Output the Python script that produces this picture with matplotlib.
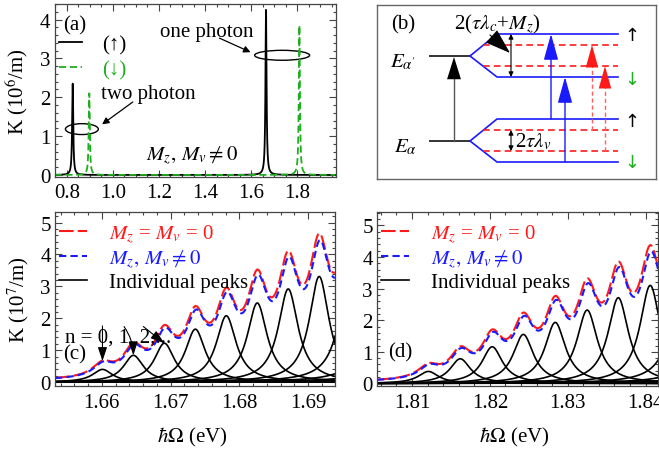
import numpy as np
import matplotlib.pyplot as plt
from matplotlib.patches import Ellipse
from matplotlib.ticker import MultipleLocator

plt.rcParams['font.family'] = ['Liberation Serif', 'DejaVu Serif']
plt.rcParams['mathtext.fontset'] = 'stix'
plt.rcParams['font.size'] = 15

RED = '#ff1a1a'
BLUE = '#1a1aff'
GREEN = '#1fae1f'
FRAME = '#444444'

# ---- panel (a): sharp peaks, K in 1e6/m
a_up_centers = [0.825, 1.665]
a_up_heights = [2.35, 4.25]
a_dn_centers = [0.897, 1.810]
a_dn_heights = [2.10, 3.85]
a_width = 0.0028

# ---- panel (c): peaks near 1.66-1.69 eV, K in 1e7/m
c_centers = [1.6601, 1.6646, 1.6691, 1.6736, 1.6781, 1.6826, 1.6871, 1.6916,
             1.6961, 1.7006, 1.7051, 1.7096, 1.7141, 1.7186]
c_heights = [0.40, 0.84, 1.22, 1.66, 2.08, 2.48, 2.92, 3.31,
             3.72, 4.12, 4.52, 4.92, 5.30, 5.70]
c_width = 0.00175

# ---- panel (d): peaks near 1.81-1.84 eV
d_centers = [1.8121, 1.8162, 1.8203, 1.8243, 1.8284, 1.8325, 1.8365, 1.8406,
             1.8447, 1.8488, 1.8529, 1.8570, 1.8611, 1.8652]
d_heights = [0.38, 0.78, 1.16, 1.55, 1.93, 2.32, 2.71, 3.10,
             3.48, 3.86, 4.24, 4.62, 5.00, 5.38]
d_width = 0.0016

# ratio of the M != 0 total to the M = 0 total
blue_ratio = 0.955


def lorentz(x, c, h, g):
    return h / (1 + ((x - c) / g) ** 2)


def style_ax(ax, xmaj, xmin, ymaj, ymin):
    ax.xaxis.set_major_locator(MultipleLocator(xmaj))
    ax.xaxis.set_minor_locator(MultipleLocator(xmin))
    ax.yaxis.set_major_locator(MultipleLocator(ymaj))
    ax.yaxis.set_minor_locator(MultipleLocator(ymin))
    ax.tick_params(which='both', direction='in', top=True, right=True,
                   color=FRAME, width=0.8)
    ax.tick_params(which='major', length=5)
    ax.tick_params(which='minor', length=2.5)
    ax.tick_params(axis='x', pad=5)
    ax.tick_params(axis='y', pad=3)
    for s in ax.spines.values():
        s.set_color(FRAME)
        s.set_linewidth(0.9)


W, H = 659, 452
fig = plt.figure(figsize=(W / 100, H / 100), dpi=100)


def px_axes(x0, y0, x1, y1):
    return fig.add_axes([x0 / W, 1 - y1 / H, (x1 - x0) / W, (y1 - y0) / H])


# ================= (a)
axa = px_axes(54.5, 5, 335.5, 177.5)
xa = np.linspace(0.74, 1.98, 40000)
ya_up = sum(lorentz(xa, c, h, a_width) for c, h in zip(a_up_centers, a_up_heights))
ya_dn = sum(lorentz(xa, c, h, a_width) for c, h in zip(a_dn_centers, a_dn_heights))
l_up, = axa.plot(xa, ya_up, color='black', lw=1.3)
l_dn, = axa.plot(xa, ya_dn, color=GREEN, lw=1.3, dashes=(4, 2))
axa.set_xlim(0.746, 1.967)
axa.set_ylim(-0.04, 4.4)
style_ax(axa, 0.2, 0.05, 1, 0.2)
axa.set_ylabel(r'K (10$^6$/m)')
axa.yaxis.set_label_coords(-0.086, 0.5)
axa.text(0.835, 3.87, '(a)', ha='center', va='center')
axa.legend([l_up, l_dn], ['(\u2191)', '(\u2193)'], loc='upper left',
           bbox_to_anchor=(0.0, 0.845), frameon=False, borderpad=0,
           borderaxespad=0.2, handlelength=1.1, handletextpad=1.0,
           labelspacing=0.25, labelcolor=['black', GREEN])
axa.text(1.409, 3.69, 'one photon', ha='center', va='center')
axa.add_patch(Ellipse((1.735, 3.08), 0.239, 0.256, fill=False, lw=1.0))
axa.annotate('', xy=(1.609, 3.13), xytext=(1.452, 3.55),
             arrowprops=dict(arrowstyle='-|>', color='black', lw=0.9,
                             mutation_scale=10))
axa.text(1.152, 2.10, 'two photon', ha='center', va='center')
axa.add_patch(Ellipse((0.865, 1.18), 0.143, 0.28, fill=False, lw=1.0))
axa.annotate('', xy=(0.943, 1.26), xytext=(1.096, 1.92),
             arrowprops=dict(arrowstyle='-|>', color='black', lw=0.9,
                             mutation_scale=10))
axa.text(1.343, 0.51, r'$M_z,\, M_v \neq 0$', ha='center', va='center')

# ================= (b) level scheme (pixel-like coordinates)
axb = px_axes(377, 6, 656, 180)
axb.set_xlim(377, 656)
axb.set_ylim(180, 6)
axb.set_xticks([])
axb.set_yticks([])
for s in axb.spines.values():
    s.set_color('#666666')
    s.set_linewidth(1.0)

lev_x0, lev_x1 = 430, 470
split_x = 497
end_x = 618
dash_x = 483
E_up, E_lo = 57, 142
upper_blue = [35, 78]
upper_red = [46, 67]
lower_blue = [120, 163]
lower_red = [131, 152]

for y0, yb, yr in [(E_up, upper_blue, upper_red), (E_lo, lower_blue, lower_red)]:
    axb.plot([lev_x0, lev_x1], [y0, y0], color='#333333', lw=1.4)
    for yy in yb:
        axb.plot([lev_x1, split_x, end_x], [y0, yy, yy], color=BLUE, lw=1.2)
    for yy in yr:
        axb.plot([dash_x, end_x], [yy, yy], color=RED, lw=1.2, dashes=(4, 2.5))

axb.plot([454, 454], [E_lo, E_up + 20], color='#555555', lw=1.0)
axb.annotate('', xy=(454, E_up + 1), xytext=(454, E_up + 22),
             arrowprops=dict(arrowstyle='-|>,head_length=0.8,head_width=0.25',
                             color='black', lw=0.0, mutation_scale=20,
                             shrinkA=0, shrinkB=0))
axb.annotate('', xy=(511, upper_blue[0]), xytext=(511, upper_blue[1]),
             arrowprops=dict(arrowstyle='<|-|>', color='black', lw=0.8,
                             mutation_scale=7, shrinkA=0, shrinkB=0))
axb.annotate('', xy=(511, lower_red[0]), xytext=(511, lower_red[1]),
             arrowprops=dict(arrowstyle='<|-|>', color='black', lw=0.8,
                             mutation_scale=7, shrinkA=0, shrinkB=0))
axb.annotate('', xy=(510, 54), xytext=(490, 36),
             arrowprops=dict(arrowstyle='-|>,head_length=0.9,head_width=0.3',
                             color='black', lw=0.8, mutation_scale=18,
                             shrinkA=0, shrinkB=0))
axb.annotate('', xy=(551, upper_blue[0]), xytext=(551, lower_blue[0]),
             arrowprops=dict(arrowstyle='-|>,head_length=0.9,head_width=0.25',
                             color=BLUE, lw=1.0, mutation_scale=18,
                             shrinkA=0, shrinkB=0))
axb.annotate('', xy=(565, upper_blue[1]), xytext=(565, lower_blue[1]),
             arrowprops=dict(arrowstyle='-|>,head_length=0.9,head_width=0.25',
                             color=BLUE, lw=1.0, mutation_scale=18,
                             shrinkA=0, shrinkB=0))
for xx, yt, yb in [(592, upper_red[0], lower_red[0]), (605, upper_red[1], lower_red[1])]:
    axb.plot([xx, xx], [yb, yt + 14], color='#ff6060', lw=1.0, dashes=(3, 2))
    axb.annotate('', xy=(xx, yt), xytext=(xx, yt + 15),
                 arrowprops=dict(arrowstyle='-|>,head_length=0.9,head_width=0.25',
                                 color=RED, lw=0.0, mutation_scale=18,
                                 shrinkA=0, shrinkB=0))

axb.text(403, 25, '(b)', ha='center', va='center')
axb.text(497, 24, r'2($\tau\lambda_c$+$M_z$)', ha='center', va='center')
axb.text(403, 62, r"$E_{\alpha'}$", ha='center', va='center')
axb.text(405, 147, r'$E_{\alpha}$', ha='center', va='center')
axb.text(515, 142, r'2$\tau\lambda_v$', ha='left', va='center')
for yy, s, col in [(36, '\u2191', 'black'), (80, '\u2193', GREEN),
                   (122, '\u2191', 'black'), (163, '\u2193', GREEN)]:
    axb.text(632, yy, s, ha='center', va='center', color=col, fontsize=13,
             family=['DejaVu Sans'])


# ================= (c) and (d)
def spectrum_panel(rect, centers, heights, width, xlim, ylim, tag, tagpos):
    ax = px_axes(*rect)
    x = np.linspace(xlim[0], xlim[1], 3000)
    peaks = [lorentz(x, c, h, width) for c, h in zip(centers, heights)]
    total = np.sum(peaks, axis=0)
    total_b = np.sum([lorentz(x, c + 0.0001, h * blue_ratio, width)
                      for c, h in zip(centers, heights)], axis=0)
    lp = None
    for p in peaks:
        lp, = ax.plot(x, p, color='black', lw=1.2)
    lr, = ax.plot(x, total, color=RED, lw=1.5, dashes=(7, 2))
    lb, = ax.plot(x, total_b, color=BLUE, lw=1.5, dashes=(3.5, 2))
    ax.set_xlim(*xlim)
    ax.set_ylim(*ylim)
    style_ax(ax, 0.01, 0.002, 1, 0.2)
    ax.set_xlabel(r'$\hbar\Omega$ (eV)')
    ax.xaxis.set_label_coords(0.49, -0.225)
    ax.legend([lr, lb, lp], [r'$M_z$ = $M_v$ = 0', r'$M_z,\, M_v \neq 0$',
                             'Individual peaks'],
              loc='upper left', bbox_to_anchor=(0.0, 0.965), frameon=False,
              borderpad=0, borderaxespad=0.2, handlelength=1.35,
              handletextpad=1.05, labelspacing=0.12,
              labelcolor=[RED, BLUE, 'black'])
    ax.text(tagpos[0], tagpos[1], tag, ha='center', va='center')
    return ax


axc = spectrum_panel((55, 213, 335, 387), c_centers, c_heights, c_width,
                     (1.6532, 1.6939), (-0.12, 5.33), '(c)', (1.6561, 0.88))
axc.set_ylabel(r'K (10$^7$/m)')
axc.yaxis.set_label_coords(-0.086, 0.5)
axc.text(1.66242, 1.42, 'n = 0, 1, 2,...', ha='center', va='center')
for tail, head, rad in [((1.6601, 1.76), (1.6601, 0.66), 0.0),
                        ((1.66324, 1.74), (1.6646, 0.84), -0.15),
                        ((1.66605, 1.74), (1.66909, 1.22), 0.0)]:
    axc.annotate('', xy=head, xytext=tail,
                 arrowprops=dict(arrowstyle='-|>,head_length=0.6,head_width=0.2',
                                 color='black', lw=0.8, mutation_scale=14,
                                 shrinkA=0, shrinkB=0,
                                 connectionstyle=f'arc3,rad={rad}'))

axd = spectrum_panel((377, 213, 658, 387), d_centers, d_heights, d_width,
                     (1.8055, 1.8416), (-0.08, 5.42), '(d)', (1.8085, 1.0))

fig.savefig('out.png', dpi=100)
